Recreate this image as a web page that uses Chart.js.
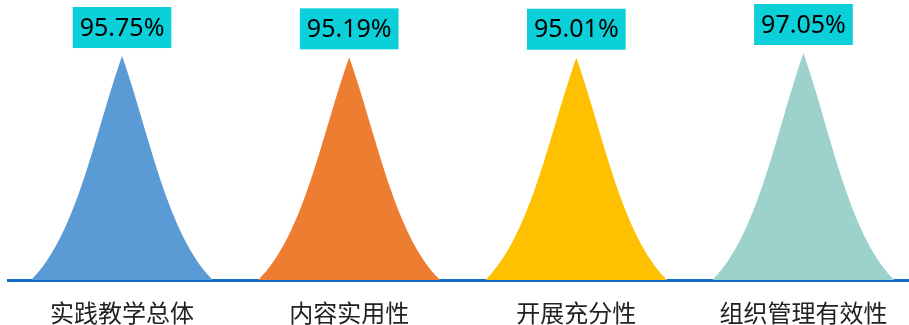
<!DOCTYPE html>
<html>
<head>
<meta charset="utf-8">
<script src="https://cdn.jsdelivr.net/npm/chart.js@4.4.1/dist/chart.umd.min.js"></script>
<style>
  html, body { margin: 0; padding: 0; background: #fff; overflow: hidden; }
  #wrap { width: 917px; height: 325px; }
</style>
</head>
<body>
<div id="wrap"><canvas id="myChart" width="917" height="325"></canvas></div>
<script>
const categories = ['实践教学总体', '内容实用性', '开展充分性', '组织管理有效性'];
const scores = [95.75, 95.19, 95.01, 97.05];

const COLORS = {
    blue: '#5B9BD5',
    orange: '#ED7D31',
    gold: '#FFC000',
    teal: '#9DD2CC',
    axis: '#1270C4',
    labelBox: '#0BCFD9',
};
const peakColors = [COLORS.blue, COLORS.orange, COLORS.gold, COLORS.teal];

// draws each bar as a bell-shaped peak, plus the value tag on top
const bellPlugin = {
    id: 'bell',
    afterDatasetsDraw(chart) {
        const ctx = chart.ctx;
        const meta = chart.getDatasetMeta(0);
        meta.data.forEach((bar, i) => {
            const cx = bar.x, top = bar.y, base = bar.base;
            const hw = bar.width / 2;
            const h = base - top;
            // one side of the bell in unit coords (t across, v up)
            const P = (t, v, s) => [cx + s * t * hw, base - v * h];
            ctx.save();
            ctx.fillStyle = peakColors[i];
            ctx.beginPath();
            let p = P(1, 0, -1);
            ctx.moveTo(p[0], p[1]);
            ctx.bezierCurveTo(...P(0.5, 0.2, -1), ...P(0.3, 0.655, -1), ...P(0, 1, -1));
            ctx.bezierCurveTo(...P(0.3, 0.655, 1), ...P(0.5, 0.2, 1), ...P(1, 0, 1));
            ctx.closePath();
            ctx.fill();

            // value tag
            const txt = scores[i].toFixed(2) + '%';
            ctx.font = '25px "Noto Sans"';
            const tw = ctx.measureText(txt).width;
            const bw = tw + 14, bh = 41;
            const by = top - 8 - bh;
            ctx.fillStyle = COLORS.labelBox;
            ctx.fillRect(cx - bw / 2, by, bw, bh);
            ctx.fillStyle = '#000';
            ctx.textAlign = 'center';
            ctx.textBaseline = 'middle';
            ctx.fillText(txt, cx, by + bh / 2 + 1);
            ctx.restore();
        });
    }
};

const ctx = document.getElementById('myChart').getContext('2d');

new Chart(ctx, {
    type: 'bar',
    data: {
        labels: categories,
        datasets: [{
            data: scores,
            backgroundColor: 'rgba(0,0,0,0)',
            borderWidth: 0,
            categoryPercentage: 0.8,
            barPercentage: 1
        }]
    },
    options: {
        responsive: false,
        animation: false,
        layout: { padding: { left: 8.5, right: 0, top: 0, bottom: -21 } },
        plugins: {
            legend: { display: false },
            tooltip: { enabled: false }
        },
        scales: {
            x: {
                grid: { display: false, drawTicks: false },
                border: { display: true, color: COLORS.axis, width: 3 },
                ticks: {
                    padding: 21,
                    color: '#222',
                    font: { family: "'Noto Sans CJK SC', sans-serif", size: 24, lineHeight: 1 }
                }
            },
            y: {
                display: false,
                min: 0,
                max: 119.7
            }
        }
    },
    plugins: [bellPlugin]
});
</script>
</body>
</html>
